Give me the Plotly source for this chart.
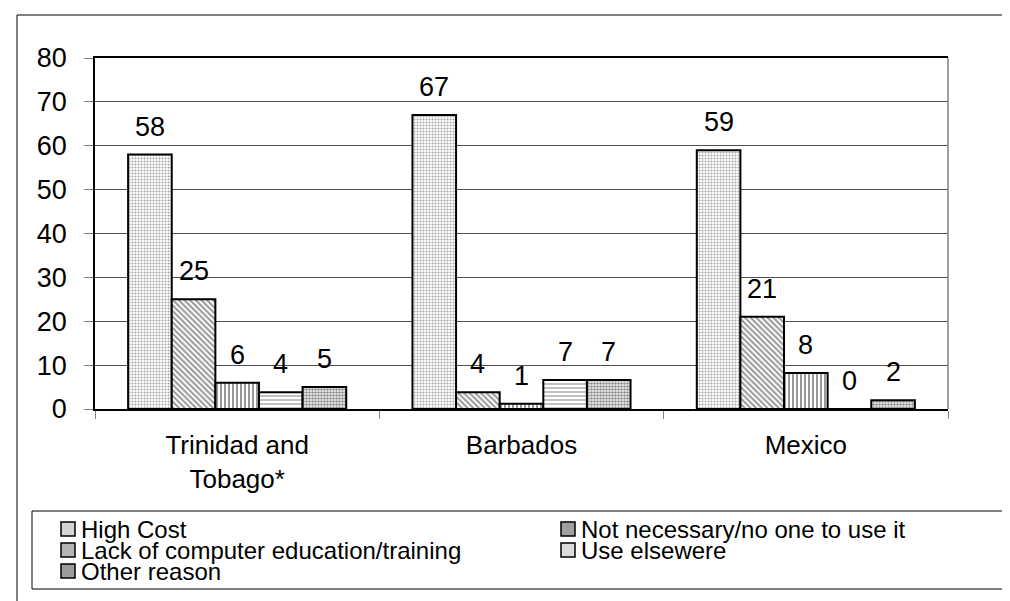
import plotly.graph_objects as go

# data
countries = ["Trinidad and<br>Tobago*", "Barbados", "Mexico"]
reasons = ["High Cost", "Not necessary/no one to use it",
           "Lack of computer education/training", "Use elsewere", "Other reason"]
high_cost = [58, 67, 59]
not_necessary = [25, 3.8, 21]
lack_training = [6, 1.2, 8.2]
use_elsewhere = [3.8, 6.6, 0]
other_reason = [5, 6.6, 2]
y_ticks = [0, 10, 20, 30, 40, 50, 60, 70, 80]

series = [high_cost, not_necessary, lack_training, use_elsewhere, other_reason]

# fill patterns, one per reason
patterns = [
    dict(shape=".", fgcolor="#505050", bgcolor="white", size=3, solidity=0.4),
    dict(shape="\\", fgcolor="#303030", bgcolor="white", size=4, solidity=0.5),
    dict(shape="|", fgcolor="black", bgcolor="white", size=4, solidity=0.4),
    dict(shape="-", fgcolor="#505050", bgcolor="white", size=4, solidity=0.35),
    dict(shape=".", fgcolor="#202020", bgcolor="white", size=3, solidity=0.6),
]
swatch = ["#d4d4d4", "#a0a0a0", "#b4b4b4", "#dcdcdc", "#9c9c9c"]

FONT = "Arial, Liberation Sans, sans-serif"
W, H = 1010, 601
L, R, T, B = 87, 70, 50, 200
plot_w = W - L - R
plot_h = H - T - B
BARGAP = 0.233


def px(x):
    return (x - L) / plot_w


def py(y):
    return (H - B - y) / plot_h


fig = go.Figure()
for name, vals, pat in zip(reasons, series, patterns):
    fig.add_trace(go.Bar(
        x=countries, y=vals, name=name,
        marker=dict(color="white", pattern=pat, line=dict(color="black", width=2)),
        showlegend=False,
    ))

# value labels sit ~19px above each bar
bar_px = plot_w / len(countries) * (1 - BARGAP) / len(reasons)
for i, vals in enumerate(series):
    for c, v in zip(countries, vals):
        fig.add_annotation(x=c, y=v, text=f"{v:.0f}", showarrow=False,
                           xshift=(i - 2) * bar_px, yshift=11, yanchor="bottom",
                           font=dict(size=27, color="black", family=FONT))

shapes = []
# outer chart border (top and left visible)
shapes.append(dict(type="path", xref="paper", yref="paper",
                   path=f"M {px(9)} {py(615)} L {px(9)} {py(7)} L {px(1020)} {py(7)}",
                   line=dict(color="black", width=1)))
# right edge of plot area
shapes.append(dict(type="line", xref="paper", yref="paper", x0=1, x1=1, y0=0, y1=1,
                   line=dict(color="#808080", width=1.5)))
# legend box
shapes.append(dict(type="rect", xref="paper", yref="paper",
                   x0=px(24), x1=px(1020), y0=py(503), y1=py(581),
                   line=dict(color="black", width=1), fillcolor="rgba(0,0,0,0)"))

legend_cols = [53, 553]
legend_rows = [521, 542, 563]
for k, name in enumerate(reasons):
    col, row = k % 2, k // 2
    x0 = legend_cols[col]
    yc = legend_rows[row]
    shapes.append(dict(type="rect", xref="paper", yref="paper",
                       x0=px(x0), x1=px(x0 + 14), y0=py(yc + 7), y1=py(yc - 7),
                       line=dict(color="black", width=1.5), fillcolor=swatch[k]))
    fig.add_annotation(xref="paper", yref="paper", x=px(x0 + 19), y=py(yc),
                       xanchor="left", yanchor="middle", text=name, showarrow=False,
                       borderpad=0, font=dict(size=24, color="black", family=FONT))

fig.update_layout(
    width=W, height=H,
    margin=dict(l=L, r=R, t=T, b=B),
    plot_bgcolor="white", paper_bgcolor="white",
    barmode="group", bargap=BARGAP, bargroupgap=0,
    font=dict(family=FONT, color="black", size=26),
    showlegend=False,
    shapes=shapes,
    xaxis=dict(type="category", showline=True, linecolor="black", linewidth=1.5,
               mirror=True, ticks="outside", tickson="boundaries", ticklen=8,
               tickcolor="#808080", tickfont=dict(size=26), ticklabelstandoff=12),
    yaxis=dict(range=[0, 80], tickvals=y_ticks, showgrid=True, gridcolor="#505050",
               gridwidth=1, showline=True, linecolor="black", linewidth=1.5,
               ticks="outside", ticklen=9, tickcolor="#808080",
               tickfont=dict(size=27), ticklabelstandoff=12, zeroline=False),
)

fig.write_html("out.html")
